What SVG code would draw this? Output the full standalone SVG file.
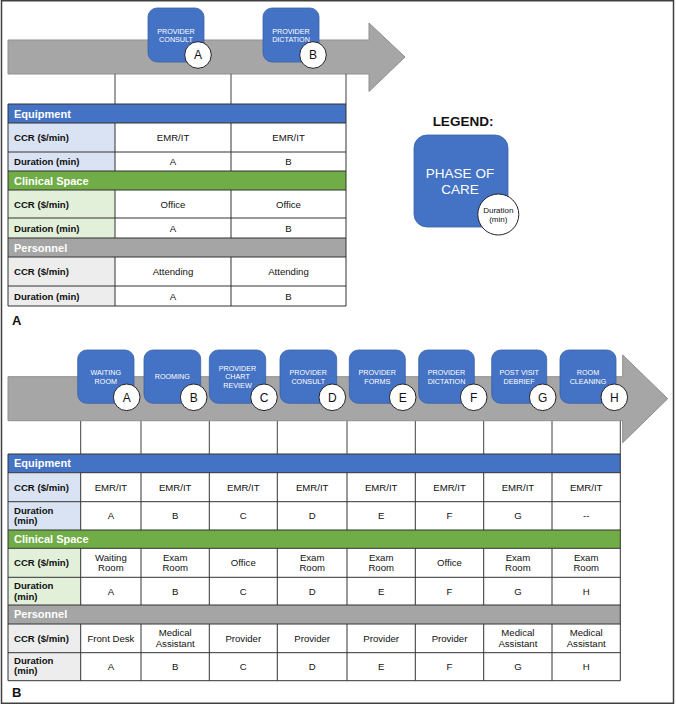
<svg xmlns="http://www.w3.org/2000/svg" width="676" height="705" viewBox="0 0 676 705">
<defs>
<style>
text{font-family:"Liberation Sans",Arial,sans-serif;}
.frame{fill:#ffffff;stroke:#404040;stroke-width:1.5;}
.arrow{fill:#a6a6a6;stroke:#8f8f8f;stroke-width:1;}
.phase{fill:#4472c4;stroke:#3a62a8;stroke-width:0.8;}
.ptxt{fill:#ffffff;font-size:7.2px;text-anchor:middle;}
.circ{fill:#ffffff;stroke:#222222;stroke-width:1;}
.ctxt{fill:#111111;font-size:12px;text-anchor:middle;}
.guide{stroke:#404040;stroke-width:1;fill:none;}
.grid{stroke:#333333;stroke-width:1;fill:none;}
.hBlue{fill:#4472c4;}
.hGreen{fill:#70ad47;}
.hGray{fill:#a5a5a5;}
.lBlue{fill:#dae3f3;}
.lGreen{fill:#e2efd9;}
.lGray{fill:#ededed;}
.htxt{fill:#ffffff;font-size:11px;font-weight:bold;}
.ltxt{fill:#111111;font-size:9.6px;font-weight:bold;}
.dtxt{fill:#111111;font-size:9.6px;text-anchor:middle;}
.sec{fill:#111111;font-size:13px;font-weight:bold;}
</style>
</defs>
<rect class="frame" x="1.5" y="0.75" width="672" height="702.5"/>

<!-- ============ PANEL A ============ -->
<g id="timeline-a">
<polygon class="arrow" points="8,40 369,40 369,23 405,57 369,91.5 369,74 8,74"/>
</g>

<g id="connectors">
<line class="guide" x1="115" y1="74" x2="115" y2="104"/>
<line class="guide" x1="231" y1="74" x2="231" y2="104"/>
<line class="guide" x1="346" y1="74" x2="346" y2="104"/>
<line class="guide" x1="80.7" y1="420.7" x2="80.7" y2="454"/>
<line class="guide" x1="141" y1="420.7" x2="141" y2="454"/>
<line class="guide" x1="209.3" y1="420.7" x2="209.3" y2="454"/>
<line class="guide" x1="277.3" y1="420.7" x2="277.3" y2="454"/>
<line class="guide" x1="347" y1="420.7" x2="347" y2="454"/>
<line class="guide" x1="415.3" y1="420.7" x2="415.3" y2="454"/>
<line class="guide" x1="483.7" y1="420.7" x2="483.7" y2="454"/>
<line class="guide" x1="552" y1="420.7" x2="552" y2="454"/>
<line class="guide" x1="620.3" y1="420.7" x2="620.3" y2="454"/>
</g>

<g id="a-provider-consult">
<rect class="phase" x="148" y="8" width="56" height="54" rx="9"/>
<text class="ptxt" x="176" y="33.6">PROVIDER</text>
<text class="ptxt" x="176" y="42">CONSULT</text>
<circle class="circ" cx="198" cy="55" r="13.3"/>
<text class="ctxt" x="198" y="59.3">A</text>
</g>
<g id="a-provider-dictation">
<rect class="phase" x="263" y="8" width="56" height="54" rx="9"/>
<text class="ptxt" x="291" y="33.6">PROVIDER</text>
<text class="ptxt" x="291" y="42">DICTATION</text>
<circle class="circ" cx="313" cy="55" r="13.3"/>
<text class="ctxt" x="313" y="59.3">B</text>
</g>

<g id="table-a">
<rect class="hBlue" x="8" y="104" width="338" height="19"/>
<rect class="lBlue" x="8" y="123" width="107" height="48"/>
<rect class="hGreen" x="8" y="171" width="338" height="19"/>
<rect class="lGreen" x="8" y="190" width="107" height="48"/>
<rect class="hGray" x="8" y="238" width="338" height="19"/>
<rect class="lGray" x="8" y="257" width="107" height="49"/>
<path class="grid" d="M8,104 H346 V306 H8 Z M8,123 H346 M8,152 H346 M8,171 H346 M8,190 H346 M8,218 H346 M8,238 H346 M8,257 H346 M8,286 H346 M115,123 V171 M231,123 V171 M115,190 V238 M231,190 V238 M115,257 V306 M231,257 V306"/>
<text class="htxt" x="14" y="117.5">Equipment</text>
<text class="htxt" x="14" y="184.5">Clinical Space</text>
<text class="htxt" x="14" y="251.5">Personnel</text>
<text class="ltxt" x="14" y="141">CCR ($/min)</text>
<text class="ltxt" x="14" y="165">Duration (min)</text>
<text class="ltxt" x="14" y="207.5">CCR ($/min)</text>
<text class="ltxt" x="14" y="231.5">Duration (min)</text>
<text class="ltxt" x="14" y="275">CCR ($/min)</text>
<text class="ltxt" x="14" y="299.5">Duration (min)</text>
<text class="dtxt" x="173" y="141">EMR/IT</text>
<text class="dtxt" x="288.5" y="141">EMR/IT</text>
<text class="dtxt" x="173" y="165">A</text>
<text class="dtxt" x="288.5" y="165">B</text>
<text class="dtxt" x="173" y="207.5">Office</text>
<text class="dtxt" x="288.5" y="207.5">Office</text>
<text class="dtxt" x="173" y="231.5">A</text>
<text class="dtxt" x="288.5" y="231.5">B</text>
<text class="dtxt" x="173" y="275">Attending</text>
<text class="dtxt" x="288.5" y="275">Attending</text>
<text class="dtxt" x="173" y="299.5">A</text>
<text class="dtxt" x="288.5" y="299.5">B</text>
</g>
<text class="sec" x="12" y="325">A</text>

<g id="legend">
<text x="463" y="126" font-size="13.5" font-weight="bold" text-anchor="middle" fill="#111111">LEGEND:</text>
<rect class="phase" x="414" y="135" width="94" height="92" rx="13"/>
<text x="460" y="177.5" font-size="13.5" fill="#ffffff" text-anchor="middle">PHASE OF</text>
<text x="460" y="194" font-size="13.5" fill="#ffffff" text-anchor="middle">CARE</text>
<circle class="circ" cx="498.3" cy="214.5" r="20.5"/>
<text x="498.3" y="212.7" font-size="8" fill="#111111" text-anchor="middle">Duration</text>
<text x="498.3" y="221.8" font-size="8" fill="#111111" text-anchor="middle">(min)</text>
</g>

<!-- ============ PANEL B ============ -->
<g id="timeline-b">
<polygon class="arrow" points="8,376.7 622.7,376.7 622.7,355 667.7,398.7 622.7,442.7 622.7,420.7 8,420.7"/>
</g>

<g id="b-waiting-room">
<rect class="phase" x="77.7" y="350" width="56.3" height="53.3" rx="9"/>
<text class="ptxt" x="105.8" y="374.9">WAITING</text>
<text class="ptxt" x="105.8" y="383.9">ROOM</text>
<circle class="circ" cx="126.7" cy="397.3" r="13.3"/>
<text class="ctxt" x="126.7" y="401.6">A</text>
</g>
<g id="b-rooming">
<rect class="phase" x="144" y="350" width="56.7" height="53.3" rx="9"/>
<text class="ptxt" x="172.3" y="379.3">ROOMING</text>
<circle class="circ" cx="193.7" cy="397.3" r="13.3"/>
<text class="ctxt" x="193.7" y="401.6">B</text>
</g>
<g id="b-provider-chart-review">
<rect class="phase" x="209.3" y="350" width="56.4" height="53.3" rx="9"/>
<text class="ptxt" x="237.5" y="370.6">PROVIDER</text>
<text class="ptxt" x="237.5" y="379.4">CHART</text>
<text class="ptxt" x="237.5" y="388">REVIEW</text>
<circle class="circ" cx="264" cy="397.3" r="13.3"/>
<text class="ctxt" x="264" y="401.6">C</text>
</g>
<g id="b-provider-consult">
<rect class="phase" x="280" y="350" width="56.7" height="53.3" rx="9"/>
<text class="ptxt" x="308.3" y="374.9">PROVIDER</text>
<text class="ptxt" x="308.3" y="383.9">CONSULT</text>
<circle class="circ" cx="332.3" cy="397.3" r="13.3"/>
<text class="ctxt" x="332.3" y="401.6">D</text>
</g>
<g id="b-provider-forms">
<rect class="phase" x="349.3" y="350" width="56" height="53.3" rx="9"/>
<text class="ptxt" x="377.3" y="374.9">PROVIDER</text>
<text class="ptxt" x="377.3" y="383.9">FORMS</text>
<circle class="circ" cx="402.7" cy="397.3" r="13.3"/>
<text class="ctxt" x="402.7" y="401.6">E</text>
</g>
<g id="b-provider-dictation">
<rect class="phase" x="418.7" y="350" width="55.6" height="53.3" rx="9"/>
<text class="ptxt" x="446.5" y="374.9">PROVIDER</text>
<text class="ptxt" x="446.5" y="383.9">DICTATION</text>
<circle class="circ" cx="473.7" cy="397.3" r="13.3"/>
<text class="ctxt" x="473.7" y="401.6">F</text>
</g>
<g id="b-post-visit-debrief">
<rect class="phase" x="491.7" y="350" width="55" height="53.3" rx="9"/>
<text class="ptxt" x="519.2" y="374.9">POST VISIT</text>
<text class="ptxt" x="519.2" y="383.9">DEBRIEF</text>
<circle class="circ" cx="542.7" cy="397.3" r="13.3"/>
<text class="ctxt" x="542.7" y="401.6">G</text>
</g>
<g id="b-room-cleaning">
<rect class="phase" x="560" y="350" width="56" height="53.3" rx="9"/>
<text class="ptxt" x="588" y="374.9">ROOM</text>
<text class="ptxt" x="588" y="383.9">CLEANING</text>
<circle class="circ" cx="614.3" cy="397.3" r="13.3"/>
<text class="ctxt" x="614.3" y="401.6">H</text>
</g>

<g id="table-b">
<rect class="hBlue" x="8" y="454" width="612.3" height="18.7"/>
<rect class="lBlue" x="8" y="472.7" width="72.7" height="57.3"/>
<rect class="hGreen" x="8" y="530" width="612.3" height="18.3"/>
<rect class="lGreen" x="8" y="548.3" width="72.7" height="56.7"/>
<rect class="hGray" x="8" y="605" width="612.3" height="19"/>
<rect class="lGray" x="8" y="624" width="72.7" height="56.7"/>
<path class="grid" d="M8,454 H620.3 V680.7 H8 Z M8,472.7 H620.3 M8,501.7 H620.3 M8,530 H620.3 M8,548.3 H620.3 M8,577.3 H620.3 M8,605 H620.3 M8,624 H620.3 M8,652.7 H620.3
M80.7,472.7 V530 M141,472.7 V530 M209.3,472.7 V530 M277.3,472.7 V530 M347,472.7 V530 M415.3,472.7 V530 M483.7,472.7 V530 M552,472.7 V530
M80.7,548.3 V605 M141,548.3 V605 M209.3,548.3 V605 M277.3,548.3 V605 M347,548.3 V605 M415.3,548.3 V605 M483.7,548.3 V605 M552,548.3 V605
M80.7,624 V680.7 M141,624 V680.7 M209.3,624 V680.7 M277.3,624 V680.7 M347,624 V680.7 M415.3,624 V680.7 M483.7,624 V680.7 M552,624 V680.7"/>
<text class="htxt" x="14" y="467.3">Equipment</text>
<text class="htxt" x="14" y="543.1">Clinical Space</text>
<text class="htxt" x="14" y="618.4">Personnel</text>
<text class="ltxt" x="14" y="490.6">CCR ($/min)</text>
<text class="ltxt" x="14" y="514.1">Duration</text>
<text class="ltxt" x="14" y="524.4">(min)</text>
<text class="ltxt" x="14" y="566.2">CCR ($/min)</text>
<text class="ltxt" x="14" y="589.3">Duration</text>
<text class="ltxt" x="14" y="599.9">(min)</text>
<text class="ltxt" x="14" y="641.8">CCR ($/min)</text>
<text class="ltxt" x="14" y="664.1">Duration</text>
<text class="ltxt" x="14" y="674.4">(min)</text>

<!-- Equipment CCR -->
<text class="dtxt" x="110.9" y="490.6">EMR/IT</text>
<text class="dtxt" x="175.2" y="490.6">EMR/IT</text>
<text class="dtxt" x="243.3" y="490.6">EMR/IT</text>
<text class="dtxt" x="312.2" y="490.6">EMR/IT</text>
<text class="dtxt" x="381.2" y="490.6">EMR/IT</text>
<text class="dtxt" x="449.5" y="490.6">EMR/IT</text>
<text class="dtxt" x="517.9" y="490.6">EMR/IT</text>
<text class="dtxt" x="586.2" y="490.6">EMR/IT</text>
<!-- Equipment Duration -->
<text class="dtxt" x="110.9" y="519.3">A</text>
<text class="dtxt" x="175.2" y="519.3">B</text>
<text class="dtxt" x="243.3" y="519.3">C</text>
<text class="dtxt" x="312.2" y="519.3">D</text>
<text class="dtxt" x="381.2" y="519.3">E</text>
<text class="dtxt" x="449.5" y="519.3">F</text>
<text class="dtxt" x="517.9" y="519.3">G</text>
<text class="dtxt" x="586.2" y="519.3">--</text>
<!-- Clinical CCR -->
<text class="dtxt" x="110.9" y="560.7">Waiting</text>
<text class="dtxt" x="110.9" y="571.4">Room</text>
<text class="dtxt" x="175.2" y="560.7">Exam</text>
<text class="dtxt" x="175.2" y="571.4">Room</text>
<text class="dtxt" x="243.3" y="566.2">Office</text>
<text class="dtxt" x="312.2" y="560.7">Exam</text>
<text class="dtxt" x="312.2" y="571.4">Room</text>
<text class="dtxt" x="381.2" y="560.7">Exam</text>
<text class="dtxt" x="381.2" y="571.4">Room</text>
<text class="dtxt" x="449.5" y="566.2">Office</text>
<text class="dtxt" x="517.9" y="560.7">Exam</text>
<text class="dtxt" x="517.9" y="571.4">Room</text>
<text class="dtxt" x="586.2" y="560.7">Exam</text>
<text class="dtxt" x="586.2" y="571.4">Room</text>
<!-- Clinical Duration -->
<text class="dtxt" x="110.9" y="594.6">A</text>
<text class="dtxt" x="175.2" y="594.6">B</text>
<text class="dtxt" x="243.3" y="594.6">C</text>
<text class="dtxt" x="312.2" y="594.6">D</text>
<text class="dtxt" x="381.2" y="594.6">E</text>
<text class="dtxt" x="449.5" y="594.6">F</text>
<text class="dtxt" x="517.9" y="594.6">G</text>
<text class="dtxt" x="586.2" y="594.6">H</text>
<!-- Personnel CCR -->
<text class="dtxt" x="110.9" y="641.8">Front Desk</text>
<text class="dtxt" x="175.2" y="636.1">Medical</text>
<text class="dtxt" x="175.2" y="646.7">Assistant</text>
<text class="dtxt" x="243.3" y="641.8">Provider</text>
<text class="dtxt" x="312.2" y="641.8">Provider</text>
<text class="dtxt" x="381.2" y="641.8">Provider</text>
<text class="dtxt" x="449.5" y="641.8">Provider</text>
<text class="dtxt" x="517.9" y="636.1">Medical</text>
<text class="dtxt" x="517.9" y="646.7">Assistant</text>
<text class="dtxt" x="586.2" y="636.1">Medical</text>
<text class="dtxt" x="586.2" y="646.7">Assistant</text>
<!-- Personnel Duration -->
<text class="dtxt" x="110.9" y="670.1">A</text>
<text class="dtxt" x="175.2" y="670.1">B</text>
<text class="dtxt" x="243.3" y="670.1">C</text>
<text class="dtxt" x="312.2" y="670.1">D</text>
<text class="dtxt" x="381.2" y="670.1">E</text>
<text class="dtxt" x="449.5" y="670.1">F</text>
<text class="dtxt" x="517.9" y="670.1">G</text>
<text class="dtxt" x="586.2" y="670.1">H</text>
</g>
<text class="sec" x="12" y="696.5">B</text>
</svg>
